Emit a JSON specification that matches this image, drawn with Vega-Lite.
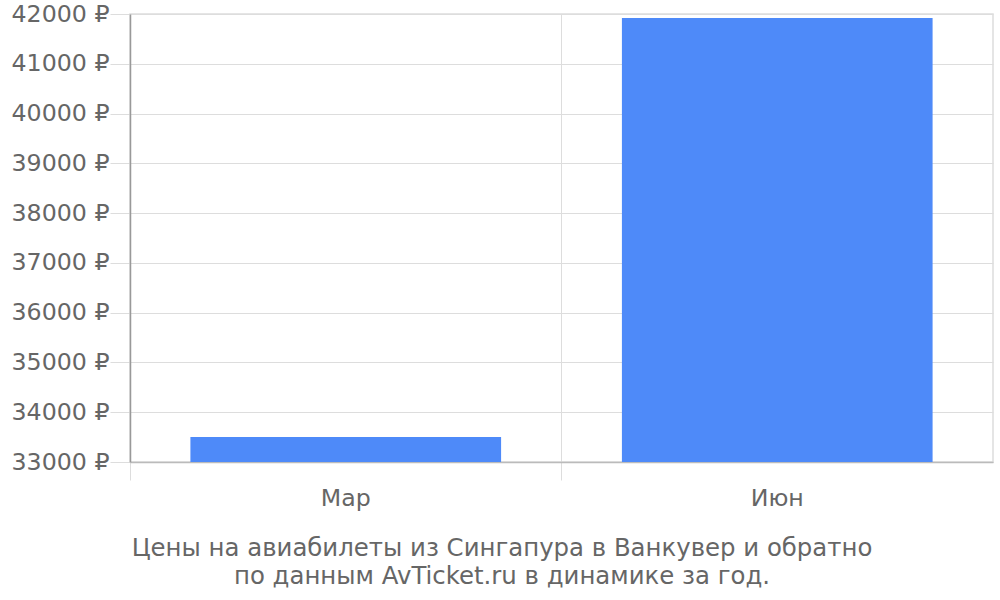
{
  "$schema": "https://vega.github.io/schema/vega-lite/v6.json",
  "width": 863,
  "height": 448,
  "autosize": {"type": "none"},
  "padding": {"left": 130, "top": 14, "right": 7, "bottom": 138},
  "background": "white",
  "config": {
    "font": "DejaVu Sans",
    "view": {"stroke": "#dddddd", "strokeWidth": 1.5}
  },
  "title": {
    "text": ["Цены на авиабилеты из Сингапура в Ванкувер и обратно", "по данным AvTicket.ru в динамике за год."],
    "orient": "bottom",
    "anchor": "middle",
    "frame": "bounds",
    "fontSize": 24.4,
    "fontWeight": "normal",
    "color": "#666666",
    "lineHeight": 28,
    "offset": 27
  },
  "data": {
    "values": [
      {"month": "Мар", "price": 33500},
      {"month": "Июн", "price": 41920}
    ]
  },
  "mark": {"type": "bar", "color": "#4e8af9", "width": {"band": 0.72}, "clip": true},
  "encoding": {
    "x": {
      "field": "month",
      "type": "nominal",
      "sort": null,
      "scale": {"paddingInner": 0, "paddingOuter": 0},
      "axis": {
        "title": null,
        "labelAngle": 0,
        "labelFontSize": 23.7,
        "labelColor": "#666666",
        "labelPadding": 6,
        "bandPosition": 0,
        "grid": true,
        "gridColor": "#dddddd",
        "tickColor": "#dddddd",
        "tickSize": 18,
        "domainColor": "#bbbbbb",
        "domainWidth": 1.5
      }
    },
    "y": {
      "field": "price",
      "type": "quantitative",
      "scale": {"domain": [33000, 42000], "nice": false, "zero": false},
      "axis": {
        "title": null,
        "values": [33000, 34000, 35000, 36000, 37000, 38000, 39000, 40000, 41000, 42000],
        "labelExpr": "datum.value + ' ₽'",
        "labelFontSize": 23.7,
        "labelColor": "#666666",
        "labelPadding": 1,
        "tickSize": 20,
        "tickColor": "#dddddd",
        "gridColor": "#dddddd",
        "domainColor": "#999999",
        "domainWidth": 1.5
      }
    }
  }
}
